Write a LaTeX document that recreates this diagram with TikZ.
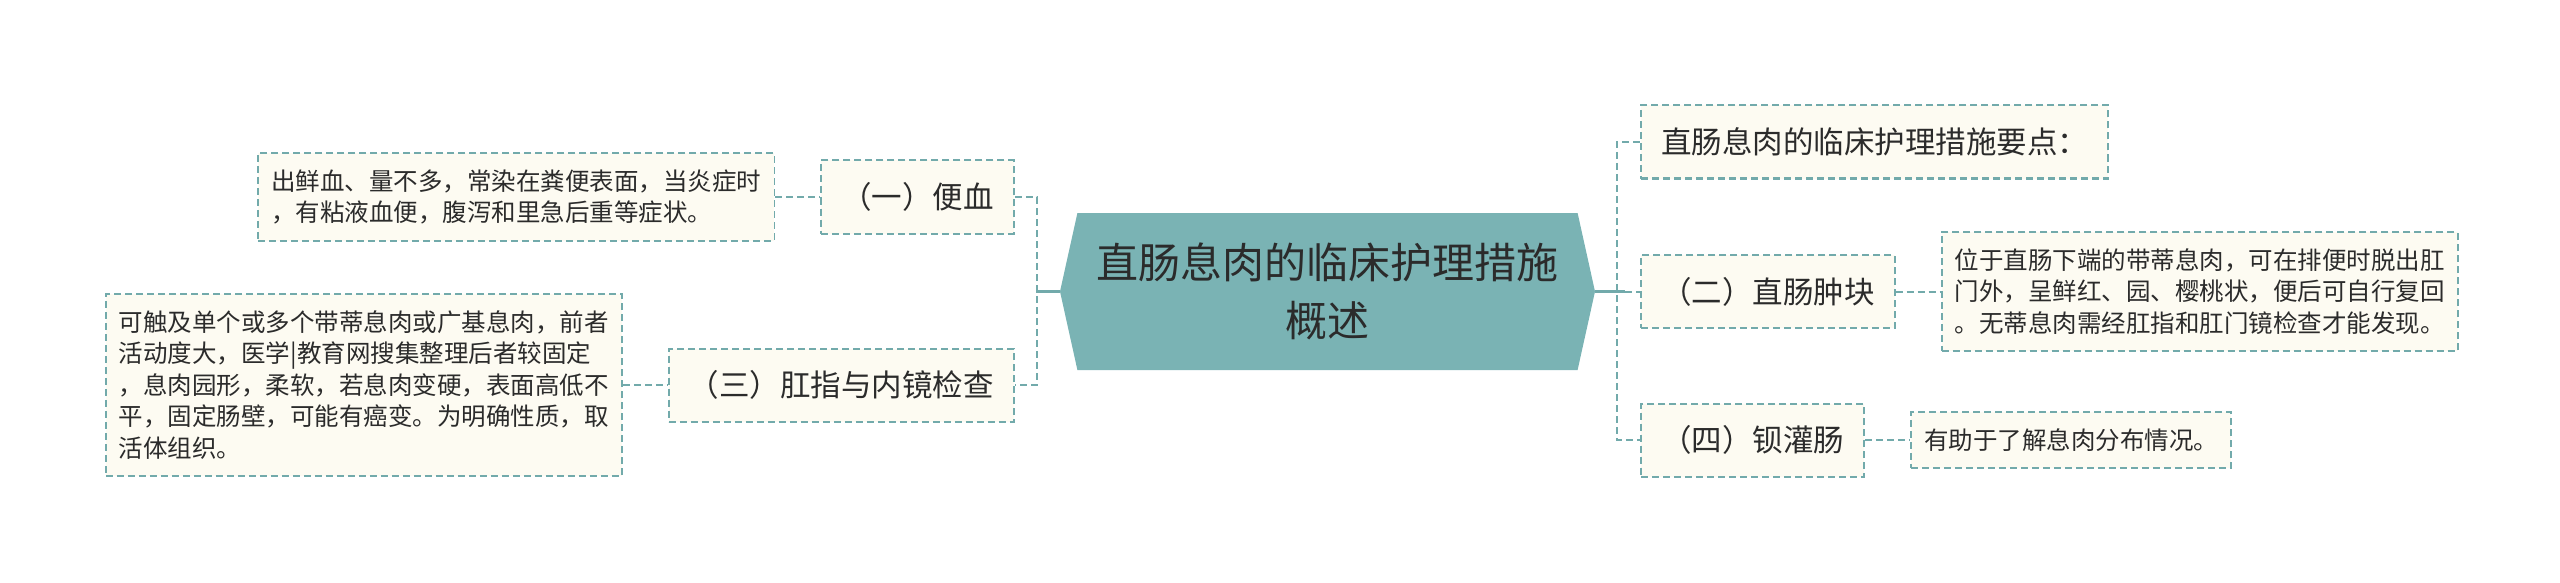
\documentclass[tikz,border=0pt]{standalone}
\usepackage{fontspec}
\setmainfont{Noto Sans CJK SC}
\usetikzlibrary{positioning, shapes.symbols, calc}
\definecolor{rootfill}{HTML}{7AB3B4}
\definecolor{tealline}{HTML}{72AAAB}
\definecolor{cream}{HTML}{FDFBF2}
\definecolor{ink}{HTML}{2B2B2B}
\tikzset{
	node distance=45pt,
	rootnode/.style={signal, signal to=west and east, signal pointer angle=155, fill=rootfill, minimum width=535pt, minimum height=157pt, inner sep=0pt, align=center, text=ink, font=\fontsize{42}{58}\selectfont},
	branch/.style={draw=tealline, line width=2pt, dash pattern=on 7pt off 4pt, fill=cream, text=ink, minimum height=73pt, inner xsep=20pt, font=\fontsize{30.5}{36}\selectfont},
	leaf/.style={draw=tealline, line width=1.8pt, dash pattern=on 7pt off 4pt, fill=cream, text=ink, align=left, inner xsep=13pt, inner ysep=16.5pt, font=\fontsize{24.5}{31.5}\selectfont},
	link/.style={draw=tealline, line width=2pt, dash pattern=on 7pt off 4pt},
	stem/.style={draw=tealline, line width=2.5pt},
}
\begin{document}
\begin{tikzpicture}[x=1pt, y=-1pt]
	\useasboundingbox (0,0) rectangle (2560,583);
	\node[rootnode] (ROOT) at (1327.5,291.5) {直肠息肉的临床护理措施\\概述};
	% left side
	\node[branch, left=of ROOT, yshift=94.5pt] (BIANXUE) {（一）便血};
	\node[branch, left=of ROOT, yshift=-93.5pt] (GANZHI) {（三）肛指与内镜检查};
	\node[leaf, left=of BIANXUE] (BIANXUEnote) {出鲜血、量不多，常染在粪便表面，当炎症时\\，有粘液血便，腹泻和里急后重等症状。};
	\node[leaf, left=of GANZHI] (GANZHInote) {可触及单个或多个带蒂息肉或广基息肉，前者\\活动度大，医学|教育网搜集整理后者较固定\\，息肉园形，柔软，若息肉变硬，表面高低不\\平，固定肠壁，可能有癌变。为明确性质，取\\活体组织。};
	% right side
	\node[branch, right=of ROOT, yshift=149.5pt] (YAODIAN) {直肠息肉的临床护理措施要点：};
	\node[branch, right=of ROOT] (ZHONGKUAI) {（二）直肠肿块};
	\node[branch, right=of ROOT, yshift=-148.5pt] (GUANCHANG) {（四）钡灌肠};
	\node[leaf, right=of ZHONGKUAI] (ZHONGKUAInote) {位于直肠下端的带蒂息肉，可在排便时脱出肛\\门外，呈鲜红、园、樱桃状，便后可自行复回\\。无蒂息肉需经肛指和肛门镜检查才能发现。};
	\node[leaf, right=of GUANCHANG] (GUANCHANGnote) {有助于了解息肉分布情况。};

	\coordinate (LT) at ($(ROOT.west)+(-23,0)$);
	\coordinate (RT) at ($(ROOT.east)+(22,0)$);
	\draw[stem] (ROOT.west) -- (LT);
	\draw[stem] (ROOT.east) -- ($(RT)+(8,0)$);
	\draw[link] (BIANXUE.east) -| (LT) |- (GANZHI.east);
	\draw[link] (YAODIAN.west) -| (RT) |- (GUANCHANG.west);
	\draw[link] ($(RT)+(8,0)$) -- (ZHONGKUAI.west);
	\draw[link] (BIANXUEnote) -- (BIANXUE);
	\draw[link] (GANZHInote) -- (GANZHI);
	\draw[link] (ZHONGKUAI) -- (ZHONGKUAInote);
	\draw[link] (GUANCHANG) -- (GUANCHANGnote);
\end{tikzpicture}
\end{document}
